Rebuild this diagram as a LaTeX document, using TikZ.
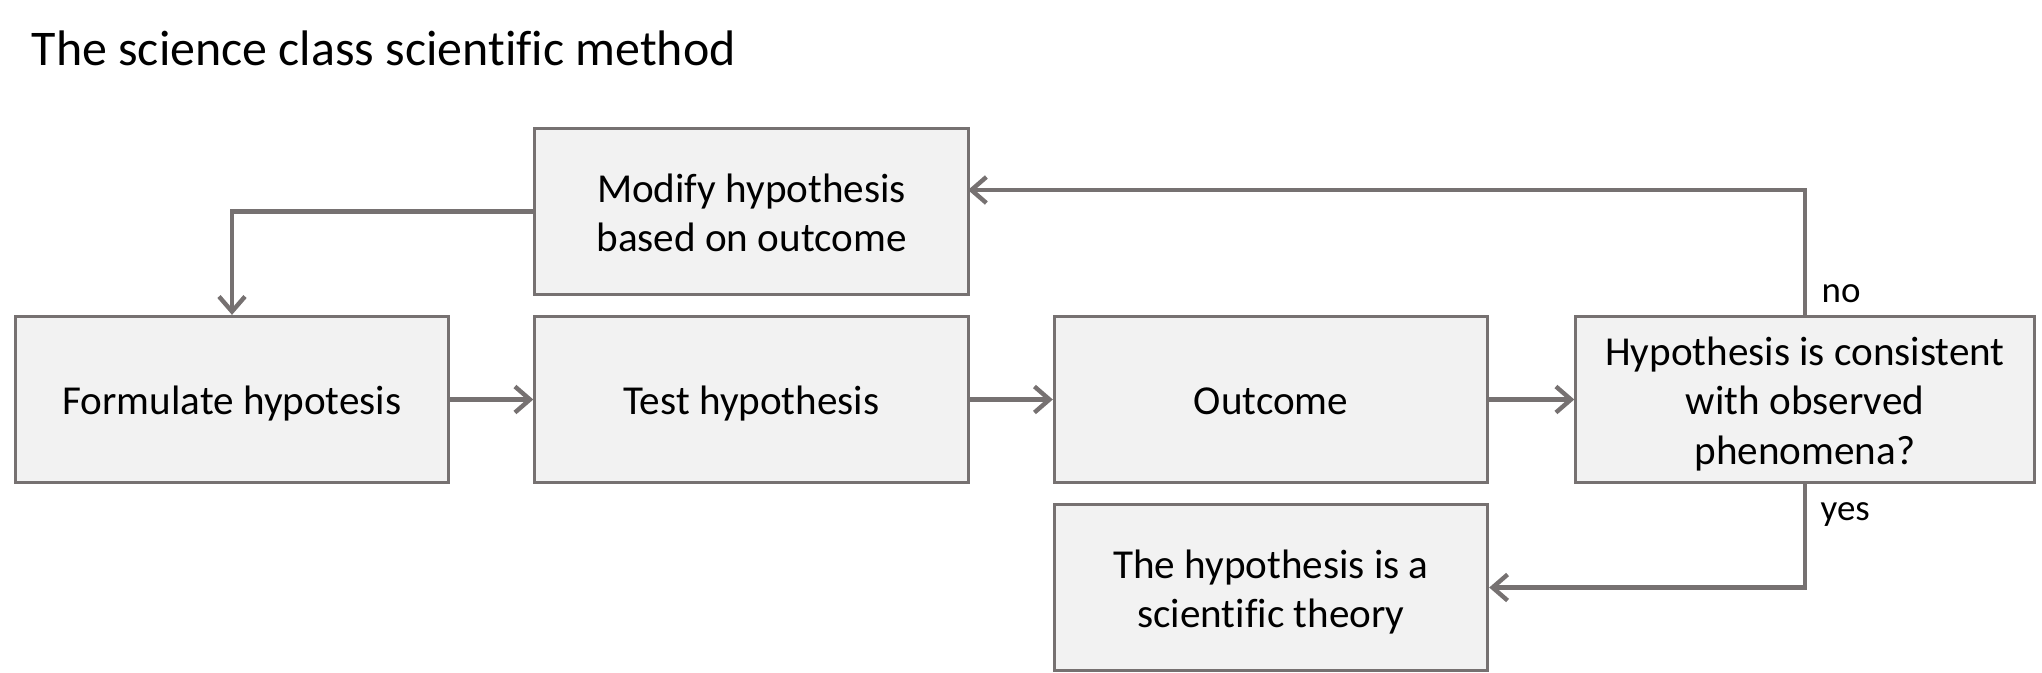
\documentclass[tikz,border=0pt]{standalone}
\usepackage{fontspec}
\setmainfont{Carlito}[Ligatures=NoCommon]
\usetikzlibrary{arrows.meta}
\definecolor{boxgray}{HTML}{767171}
\definecolor{boxfill}{HTML}{F2F2F2}
% line box of the box texts: top of first line, bottom of last line
\newcommand{\lt}{\rule{0pt}{1.0em}}
\newcommand{\lb}{\rule[-0.25em]{0pt}{0.25em}}

\begin{document}
\begin{tikzpicture}[x=0.01cm,y=-0.01cm]

      \useasboundingbox (0,0) rectangle (2042,672);

      \node[anchor=base west, inner sep=0pt, font=\fontsize{14.2}{17}\selectfont] (title) at (31,65) {The science class scientific method};

      \begin{scope}[every node/.style={draw=boxgray, fill=boxfill, line width=0.9pt,
          minimum width=4.33cm, minimum height=1.66cm, inner sep=0pt, align=center,
          font=\fontsize{11.7}{14.1}\selectfont}]
        \node (modify)    at (751.5,211.5) {\lt Modify hypothesis\\based on outcome\lb};
        \node (formulate) at (232,399.5)   {\lt Formulate hypotesis\lb};
        \node (test)      at (751.5,399.5) {\lt Test hypothesis\lb};
        \node (outcome)   at (1271,399.5)  {\lt Outcome\lb};
        \node[minimum width=4.58cm] (check) at (1805,399.5) {\lt Hypothesis is consistent\\with observed\\phenomena?\lb};
        \node (theory)    at (1271,587.5)  {\lt The hypothesis is a\\scientific theory\lb};
      \end{scope}

      \coordinate (noin) at (968,190);

      \begin{scope}[every path/.style={draw=boxgray, line width=1.25pt,
          -{Straight Barb[length=1.5mm,width=2.6mm]}}]
        \path (modify.west) -| (formulate.north);
        \path (formulate.east) -- (test.west);
        \path (test.east) -- (outcome.west);
        \path (outcome.east) -- (check.west);
        \path (check.north) |- (noin);
        \path (check.south) |- (theory.east);
      \end{scope}

      \begin{scope}[every node/.style={anchor=west, inner sep=0pt, font=\fontsize{10.5}{12}\selectfont}]
        \node (no)  at (1821,294) {no};
        \node (yes) at (1820,515) {yes};
      \end{scope}

    \end{tikzpicture}
\end{document}
